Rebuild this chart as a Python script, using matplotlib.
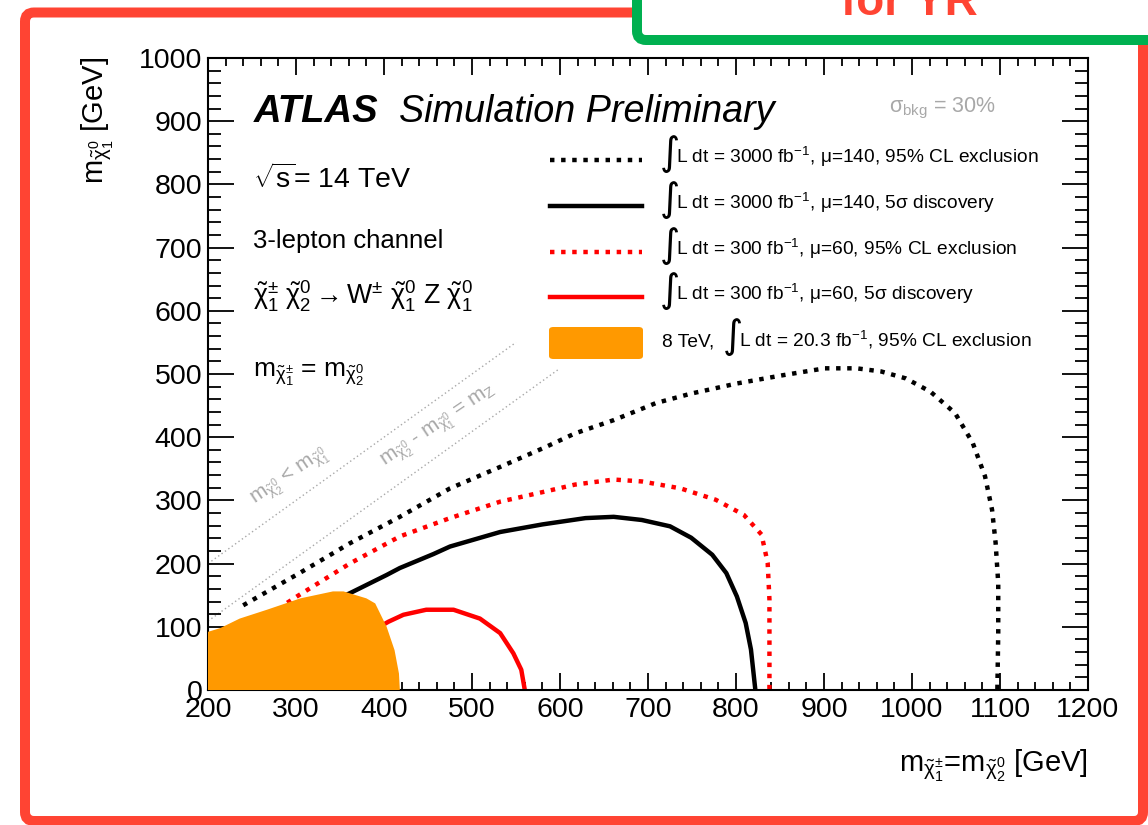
import matplotlib
matplotlib.use('Agg')
import matplotlib.pyplot as plt
from matplotlib.patches import FancyBboxPatch, Polygon
from matplotlib.transforms import IdentityTransform
from matplotlib.ticker import MultipleLocator

plt.rcParams['font.family'] = ['Liberation Sans', 'DejaVu Sans']
plt.rcParams['mathtext.fontset'] = 'custom'
plt.rcParams['mathtext.rm'] = 'Liberation Sans'
plt.rcParams['mathtext.it'] = 'Liberation Sans:italic'
plt.rcParams['mathtext.bf'] = 'Liberation Sans:bold'
plt.rcParams['mathtext.sf'] = 'Liberation Sans'

# ---------------- data (GeV) ----------------
excl3000_x = [240, 304, 361, 418, 475, 532, 583, 617, 661, 709, 749, 801, 853, 901, 937, 965, 993,
              1021, 1049, 1069, 1083, 1091, 1095, 1098, 1098, 1097]
excl3000_y = [134, 185, 232, 274, 319, 353, 384, 406, 427, 454, 469, 485, 498, 509, 509, 504, 493,
              472, 438, 391, 338, 285, 233, 169, 91, 0]

disc3000_x = [340, 361, 403, 418, 456, 475, 532, 580, 629, 661, 693, 725, 749, 773, 789, 801, 811, 817, 822]
disc3000_y = [140, 153, 182, 193, 215, 227, 250, 262, 272, 274, 269, 259, 241, 214, 185, 148, 106, 64, 0]

excl300_x = [290, 301, 361, 418, 475, 532, 583, 617, 661, 693, 737, 777, 809, 829, 836, 838, 838, 838]
excl300_y = [138, 148, 200, 243, 272, 298, 314, 325, 333, 330, 319, 301, 277, 246, 201, 143, 64, 0]

disc300_x = [395, 405, 422, 448, 479, 509, 532, 547, 556, 560]
disc300_y = [100, 108, 119, 127, 127, 113, 90, 58, 32, 0]

excl8TeV_x = [200, 200, 214, 236, 267, 305, 342, 354, 380, 390, 403, 412, 417, 418]
excl8TeV_y = [0, 92, 98, 113, 127, 145, 156, 156, 145, 137, 100, 63, 26, 0]

diag1_x = [200, 550]
diag1_y = [200, 550]
diag2_x = [200, 598]
diag2_y = [109, 507]

xticks = [200, 300, 400, 500, 600, 700, 800, 900, 1000, 1100, 1200]
yticks = [0, 100, 200, 300, 400, 500, 600, 700, 800, 900, 1000]

legend_labels = [
    r'L dt = 3000 fb$^{-1}$, μ=140, 95% CL exclusion',
    r'L dt = 3000 fb$^{-1}$, μ=140, 5σ discovery',
    r'L dt = 300 fb$^{-1}$, μ=60, 95% CL exclusion',
    r'L dt = 300 fb$^{-1}$, μ=60, 5σ discovery',
    r'L dt = 20.3 fb$^{-1}$, 95% CL exclusion',
]

# ---------------- figure ----------------
W, H = 1148, 825
fig = plt.figure(figsize=(W / 100, H / 100), dpi=100)
fig.patch.set_facecolor('white')

RED = '#ff4433'
GREEN = '#00b050'
ORANGE = '#ff9900'
GREY = '#a8a8a8'

# decorative frames
red_frame = FancyBboxPatch((25, 4), 1118, 808.5, boxstyle='round,pad=0,rounding_size=9',
                           transform=IdentityTransform(), facecolor='none', edgecolor=RED,
                           linewidth=7.2, zorder=0)
fig.add_artist(red_frame)
green_box = FancyBboxPatch((637, 785), 700, 200, boxstyle='round,pad=0,rounding_size=9',
                           transform=IdentityTransform(), facecolor='white', edgecolor=GREEN,
                           linewidth=7.2, zorder=1)
fig.add_artist(green_box)
fig.text(909 / W, 1 - 15 / H, 'for YR', color=RED, fontsize=33, fontweight='bold',
         ha='center', va='baseline', zorder=2)

ax = fig.add_axes([208 / W, 1 - 690 / H, 880 / W, 632 / H])
ax.set_zorder(3)


def axp(px, py):
    return ((px - 208) / 880, (690 - py) / 632)


LW = 3.2
ax.plot(diag1_x, diag1_y, color=GREY, lw=1.0, ls=(0, (1, 2)), zorder=1)
ax.plot(diag2_x, diag2_y, color=GREY, lw=1.0, ls=(0, (1, 2)), zorder=1)
ax.plot(excl3000_x, excl3000_y, color='black', lw=LW, ls=(0, (1, 1.5)), zorder=2)
ax.plot(disc3000_x, disc3000_y, color='black', lw=LW, ls='-', zorder=2)
ax.plot(excl300_x, excl300_y, color='red', lw=LW, ls=(0, (1, 1.5)), zorder=2)
ax.plot(disc300_x, disc300_y, color='red', lw=LW, ls='-', zorder=2)
ax.add_patch(Polygon(list(zip(excl8TeV_x, excl8TeV_y)), closed=True, facecolor=ORANGE,
                     edgecolor='none', zorder=3))

ax.set_xlim(200, 1200)
ax.set_ylim(0, 1000)
ax.set_xticks(xticks)
ax.set_yticks(yticks)
ax.xaxis.set_minor_locator(MultipleLocator(20))
ax.yaxis.set_minor_locator(MultipleLocator(20))
ax.tick_params(which='both', direction='in', top=True, right=True, width=1.3, labelsize=20.5)
ax.tick_params(axis='x', which='major', length=12.5, pad=5)
ax.tick_params(axis='x', which='minor', length=6)
ax.tick_params(axis='y', which='major', length=19, pad=4)
ax.tick_params(axis='y', which='minor', length=9.5)
for s in ax.spines.values():
    s.set_linewidth(1.5)

# axis titles
fig.text(1088 / W, 1 - 772 / H,
         r'm$_{\tilde{\mathrm{\chi}}^{\pm}_{1}}$=m$_{\tilde{\mathrm{\chi}}^{0}_{2}}$ [GeV]',
         fontsize=21, ha='right', va='baseline')
fig.text(98 / W, 1 - 57 / H, r'm$_{\tilde{\mathrm{\chi}}^{0}_{1}}$ [GeV]', fontsize=21,
         rotation=90, ha='center', va='top')

# annotations
ax.text(*axp(254, 122), 'ATLAS', fontsize=27.5, fontweight='bold', fontstyle='italic',
        transform=ax.transAxes, va='baseline', ha='left')
ax.text(*axp(399, 122), 'Simulation Preliminary', fontsize=27.2, fontstyle='italic',
        transform=ax.transAxes, va='baseline', ha='left')
ax.text(*axp(253, 188), r'$\sqrt{\mathrm{s}}$= 14 TeV', fontsize=20.5,
        transform=ax.transAxes, va='baseline', ha='left')
ax.text(*axp(253, 248), '3-lepton channel', fontsize=18.5,
        transform=ax.transAxes, va='baseline', ha='left')
ax.text(*axp(253, 305),
        r'$\tilde{\mathrm{\chi}}^{\pm}_{1}\ \tilde{\mathrm{\chi}}^{0}_{2} \rightarrow \mathrm{W}^{\pm}\ '
        r'\tilde{\mathrm{\chi}}^{0}_{1}\ \mathrm{Z}\ \tilde{\mathrm{\chi}}^{0}_{1}$',
        fontsize=19.2, transform=ax.transAxes, va='baseline', ha='left')
ax.text(*axp(253, 377),
        r'm$_{\tilde{\mathrm{\chi}}^{\pm}_{1}}$ = m$_{\tilde{\mathrm{\chi}}^{0}_{2}}$',
        fontsize=19, transform=ax.transAxes, va='baseline', ha='left')
ax.text(*axp(889, 112), r'σ$_{\mathrm{bkg}}$ = 30%', fontsize=15.5, color=GREY,
        transform=ax.transAxes, va='baseline', ha='left')

ax.text(*axp(290, 478), r'm$_{\tilde{\mathrm{\chi}}^{0}_{2}}$ < m$_{\tilde{\mathrm{\chi}}^{0}_{1}}$',
        fontsize=15, color=GREY, rotation=34, ha='center', va='center',
        rotation_mode='anchor', transform=ax.transAxes)
ax.text(*axp(440, 427),
        r'm$_{\tilde{\mathrm{\chi}}^{0}_{2}}$ - m$_{\tilde{\mathrm{\chi}}^{0}_{1}}$ = m$_{\mathrm{Z}}$',
        fontsize=15, color=GREY, rotation=34, ha='center', va='center',
        rotation_mode='anchor', transform=ax.transAxes)

# legend (manual, ROOT-style)
rows = [160, 206, 251.7, 297, 343.5]
styles = [('black', (0, (1, 1.5))), ('black', '-'), ('red', (0, (1, 1.5))), ('red', '-')]
for (c, ls), ry in zip(styles, rows[:4]):
    x0, y0 = axp(550, ry)
    x1, _ = axp(642, ry)
    ax.plot([x0, x1], [y0, y0], color=c, lw=LW, ls=ls, transform=ax.transAxes, clip_on=False)
bx0, by0 = axp(549, 359)
bx1, by1 = axp(643, 327)
ax.add_patch(FancyBboxPatch((bx0, by0), bx1 - bx0, by1 - by0,
                            boxstyle='round,pad=0,rounding_size=0.005', facecolor=ORANGE,
                            edgecolor='none', transform=ax.transAxes, clip_on=False))
for i, ry in enumerate(rows):
    if i < 4:
        ix, tx = 660, 676
    else:
        ax.text(*axp(662, ry + 3), '8 TeV,', fontsize=13.8, transform=ax.transAxes,
                va='baseline', ha='left')
        ix, tx = 723, 739
    ax.text(*axp(ix, ry - 6), '∫', fontsize=28, family='DejaVu Sans', transform=ax.transAxes,
            va='center', ha='left')
    ax.text(*axp(tx, ry + 3), legend_labels[i], fontsize=13.8, transform=ax.transAxes,
            va='baseline', ha='left')

fig.savefig('out.png', dpi=100)
